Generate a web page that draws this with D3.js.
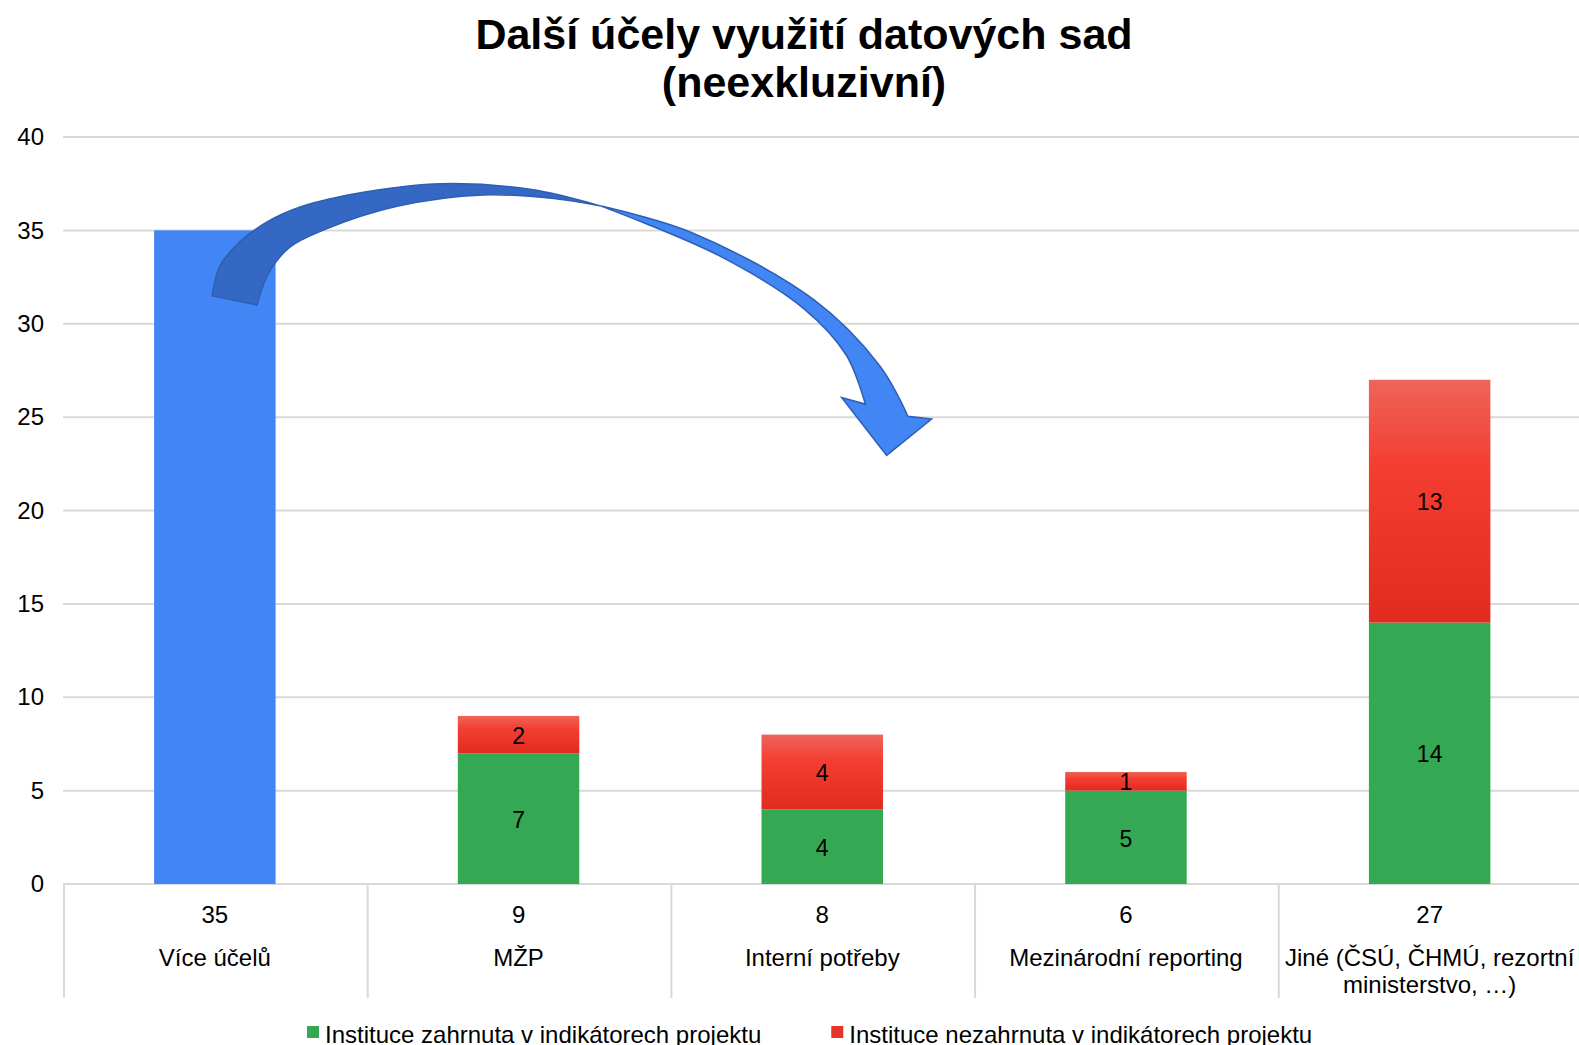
<!DOCTYPE html>
<html lang="cs">
<head>
    <meta charset="UTF-8">
    <title>Další účely využití datových sad</title>
    <script src="https://d3js.org/d3.v7.min.js"></script>
    <style>
        body { margin: 0; background: #fff; overflow: hidden; }
        svg { display: block; font-family: "Liberation Sans", Arial, sans-serif; }
        .grid line { stroke: #d9d9d9; stroke-width: 2; }
        .lbl { font-size: 24px; fill: #000; }
    </style>
</head>
<body>
    <svg id="chart"></svg>

    <script>
        // data
        var categories = ["Více účelů", "MŽP", "Interní potřeby", "Mezinárodní reporting", "Jiné (ČSÚ, ČHMÚ, rezortní ministerstvo, …)"];
        var categoryLines = [["Více účelů"], ["MŽP"], ["Interní potřeby"], ["Mezinárodní reporting"], ["Jiné (ČSÚ, ČHMÚ, rezortní", "ministerstvo, …)"]];
        var totals = [35, 9, 8, 6, 27];
        var blueValues = [35, 0, 0, 0, 0];
        var greenValues = [0, 7, 4, 5, 14];
        var redValues = [0, 2, 4, 1, 13];
        var seriesNames = ["Instituce zahrnuta v indikátorech projektu", "Instituce nezahrnuta v indikátorech projektu"];
        var yTicks = [0, 5, 10, 15, 20, 25, 30, 35, 40];

        // arrow annotation in (category index, value) units
        var arrowBackOuter = [[0.491, 31.5], [0.517, 33.1], [0.583, 34.4], [0.672, 35.45], [0.781, 36.25], [0.994, 37.05], [1.245, 37.5], [1.538, 37.2], [1.772, 36.3]];
        var arrowBackInner = [[0.639, 31.0], [0.675, 32.65], [0.747, 34.1], [0.855, 35.0], [1.103, 36.3], [1.383, 36.9], [1.617, 36.7], [1.772, 36.3]];
        var arrowFrontOuter = [[1.772, 36.3], [2.067, 34.9], [2.471, 31.3], [2.689, 27.75], [2.782, 25.05]];
        var arrowHead = [[2.860, 24.9], [2.712, 22.95], [2.564, 26.05], [2.642, 25.7]];
        var arrowFrontInner = [[2.642, 25.7], [2.580, 28.3], [2.440, 30.8], [2.160, 33.65], [1.772, 36.3]];

        var W = 1579, H = 1045;
        var plotLeft = 63, plotRight = 1581.5, plotTop = 137, plotBottom = 884;

        var svg = d3.select("#chart").attr("width", W).attr("height", H);

        var defs = svg.append("defs");
        var grad = defs.append("linearGradient").attr("id", "redGrad")
            .attr("x1", 0).attr("y1", 0).attr("x2", 0).attr("y2", 1);
        grad.append("stop").attr("offset", "0%").attr("stop-color", "#ee645b");
        grad.append("stop").attr("offset", "35%").attr("stop-color", "#f43e31");
        grad.append("stop").attr("offset", "100%").attr("stop-color", "#e12b1e");

        var x = d3.scaleBand().domain(categories).range([plotLeft, plotRight]).paddingInner(0.6).paddingOuter(0.3);
        var xCell = d3.scaleBand().domain(categories).range([plotLeft, plotRight]).padding(0);
        var xIdx = d3.scaleLinear().domain([0, categories.length]).range([plotLeft, plotRight]);
        var y = d3.scaleLinear().domain([0, 40]).range([plotBottom, plotTop]);

        // title
        var title = svg.append("text").attr("text-anchor", "middle")
            .style("font-size", "43px").style("font-weight", "bold");
        title.append("tspan").attr("x", 804).attr("y", 49).text("Další účely využití datových sad");
        title.append("tspan").attr("x", 804).attr("y", 97).text("(neexkluzivní)");

        // gridlines
        svg.append("g").attr("class", "grid")
            .selectAll("line").data(yTicks).enter().append("line")
            .attr("x1", plotLeft).attr("x2", W)
            .attr("y1", function(d) { return y(d); })
            .attr("y2", function(d) { return y(d); });

        // y axis labels
        var yAxis = svg.append("g")
            .attr("transform", "translate(" + (plotLeft - 6) + ",0)")
            .call(d3.axisLeft(y).tickValues(yTicks).tickSize(0).tickPadding(13));
        yAxis.select(".domain").remove();
        yAxis.selectAll("text").attr("class", "lbl").style("font-family", "inherit");

        // category table under the axis
        var dividers = svg.append("g").attr("class", "grid");
        dividers.selectAll("line").data(categories).enter().append("line")
            .attr("x1", function(d) { return xCell(d) + 1; })
            .attr("x2", function(d) { return xCell(d) + 1; })
            .attr("y1", plotBottom).attr("y2", 998);

        var cells = svg.append("g").selectAll("g").data(categories).enter().append("g")
            .attr("transform", function(d) { return "translate(" + (xCell(d) + xCell.bandwidth() / 2) + ",0)"; });
        cells.append("text").attr("class", "lbl").attr("text-anchor", "middle").attr("y", 922.5)
            .text(function(d, i) { return totals[i]; });
        cells.each(function(d, i) {
            var t = d3.select(this).append("text").attr("class", "lbl").attr("text-anchor", "middle");
            categoryLines[i].forEach(function(line, j) {
                t.append("tspan").attr("x", 0).attr("y", 966 + j * 27).text(line);
            });
        });

        // bars
        var bars = svg.append("g");
        bars.selectAll(".blue").data(categories.filter(function(d, i) { return blueValues[i] > 0; }))
            .enter().append("rect")
            .attr("x", function(d) { return x(d); })
            .attr("width", x.bandwidth())
            .attr("y", function(d) { return y(blueValues[categories.indexOf(d)]); })
            .attr("height", function(d) { return y(0) - y(blueValues[categories.indexOf(d)]); })
            .attr("fill", "#4285f4");

        var stacked = categories.map(function(c, i) {
            return { cat: c, g: greenValues[i], r: redValues[i] };
        }).filter(function(d) { return d.g + d.r > 0; });

        bars.selectAll(".green").data(stacked).enter().append("rect")
            .attr("x", function(d) { return x(d.cat); })
            .attr("width", x.bandwidth())
            .attr("y", function(d) { return y(d.g); })
            .attr("height", function(d) { return y(0) - y(d.g); })
            .attr("fill", "#34a853");

        bars.selectAll(".red").data(stacked).enter().append("rect")
            .attr("x", function(d) { return x(d.cat); })
            .attr("width", x.bandwidth())
            .attr("y", function(d) { return y(d.g + d.r); })
            .attr("height", function(d) { return y(d.g) - y(d.g + d.r); })
            .attr("fill", "url(#redGrad)");

        // value labels inside segments
        var labels = svg.append("g").style("font-size", "23px").attr("text-anchor", "middle");
        stacked.forEach(function(d) {
            var cx = x(d.cat) + x.bandwidth() / 2;
            labels.append("text").attr("x", cx).attr("y", y(d.g / 2)).attr("dy", "0.4em").text(d.g);
            labels.append("text").attr("x", cx).attr("y", y(d.g + d.r / 2)).attr("dy", "0.4em").text(d.r);
        });

        // curved arrow annotation
        function px(p) { return [xIdx(p[0]), y(p[1])]; }
        var curve = d3.line().curve(d3.curveCatmullRom.alpha(0.5));
        var straight = d3.line();

        var backPath = curve(arrowBackOuter.map(px)) + "L" +
            curve(arrowBackInner.slice().reverse().map(px)).slice(1) + "Z";
        var frontPath = curve(arrowFrontOuter.map(px)) + "L" +
            straight(arrowHead.map(px)).slice(1) + "L" +
            curve(arrowFrontInner.map(px)).slice(1) + "Z";

        svg.append("path").attr("d", frontPath)
            .attr("fill", "#4285f4").attr("stroke", "#2f5fb3").attr("stroke-width", 1.5)
            .attr("stroke-linejoin", "miter");
        svg.append("path").attr("d", backPath)
            .attr("fill", "#3468c4").attr("stroke", "#2f5fb3").attr("stroke-width", 1.5);

        // legend
        var legendColors = ["#34a853", "#e8332a"];
        var legend = svg.append("g");
        var lx = 307;
        seriesNames.forEach(function(name, i) {
            legend.append("rect").attr("x", lx).attr("y", 1026).attr("width", 12).attr("height", 12)
                .attr("fill", legendColors[i]);
            var t = legend.append("text").attr("class", "lbl").attr("x", lx + 18).attr("y", 1042.5).text(name);
            lx = lx + 18 + t.node().getComputedTextLength() + 70;
        });
    </script>
</body>
</html>
